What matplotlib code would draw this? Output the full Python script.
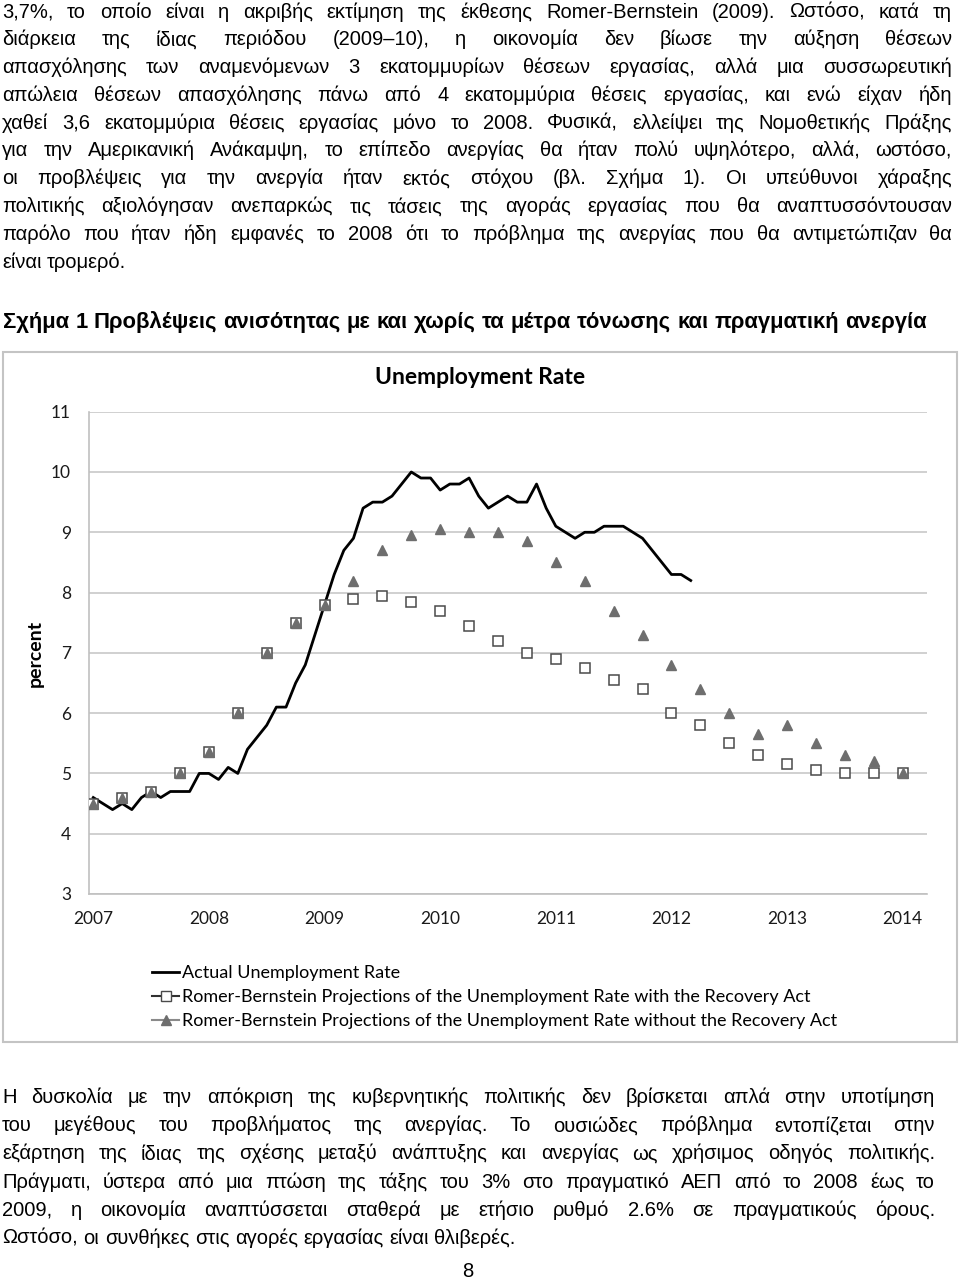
import numpy as np
import matplotlib
matplotlib.use("Agg")
import matplotlib.pyplot as plt
from matplotlib import font_manager
from matplotlib.lines import Line2D
from matplotlib.patches import Rectangle

W, H = 960, 1281

# values
years = [2007, 2008, 2009, 2010, 2011, 2012, 2013, 2014]
yticks = [3, 4, 5, 6, 7, 8, 9, 10, 11]

# quarterly projections, 2007Q1 .. 2014Q1
quarters = 2007 + np.arange(29) * 0.25
with_act = [4.5, 4.6, 4.7, 5.0, 5.35, 6.0, 7.0, 7.5, 7.8, 7.9, 7.95, 7.85, 7.7, 7.45, 7.2,
            7.0, 6.9, 6.75, 6.55, 6.4, 6.0, 5.8, 5.5, 5.3, 5.15, 5.05, 5.0, 5.0, 5.0]
without_act = [4.5, 4.6, 4.7, 5.0, 5.35, 6.0, 7.0, 7.5, 7.8, 8.2, 8.7, 8.95, 9.05, 9.0, 9.0,
               8.85, 8.5, 8.2, 7.7, 7.3, 6.8, 6.4, 6.0, 5.65, 5.8, 5.5, 5.3, 5.2, 5.0]

# monthly actual rate, Jan 2007 .. Mar 2012
actual = [4.6, 4.5, 4.4, 4.5, 4.4, 4.6, 4.7, 4.6, 4.7, 4.7, 4.7, 5.0,
          5.0, 4.9, 5.1, 5.0, 5.4, 5.6, 5.8, 6.1, 6.1, 6.5, 6.8, 7.3,
          7.8, 8.3, 8.7, 8.9, 9.4, 9.5, 9.5, 9.6, 9.8, 10.0, 9.9, 9.9,
          9.7, 9.8, 9.8, 9.9, 9.6, 9.4, 9.5, 9.6, 9.5, 9.5, 9.8, 9.4,
          9.1, 9.0, 8.9, 9.0, 9.0, 9.1, 9.1, 9.1, 9.0, 8.9, 8.7, 8.5,
          8.3, 8.3, 8.2]
months = 2007 + np.arange(len(actual)) / 12.0

labels = ["Actual Unemployment Rate",
          "Romer-Bernstein Projections of the Unemployment Rate with the Recovery Act",
          "Romer-Bernstein Projections of the Unemployment Rate without the Recovery Act"]

top_par = [
    "3,7%, το οποίο είναι η ακριβής εκτίμηση της έκθεσης Romer-Bernstein (2009). Ωστόσο, κατά τη",
    "διάρκεια της ίδιας περιόδου (2009–10), η οικονομία δεν βίωσε την αύξηση θέσεων",
    "απασχόλησης των αναμενόμενων 3 εκατομμυρίων θέσεων εργασίας, αλλά μια συσσωρευτική",
    "απώλεια θέσεων απασχόλησης πάνω από 4 εκατομμύρια θέσεις εργασίας, και ενώ είχαν ήδη",
    "χαθεί 3,6 εκατομμύρια θέσεις εργασίας μόνο το 2008. Φυσικά, ελλείψει της Νομοθετικής Πράξης",
    "για την Αμερικανική Ανάκαμψη, το επίπεδο ανεργίας θα ήταν πολύ υψηλότερο, αλλά, ωστόσο,",
    "οι προβλέψεις για την ανεργία ήταν εκτός στόχου (βλ. Σχήμα 1). Οι υπεύθυνοι χάραξης",
    "πολιτικής αξιολόγησαν ανεπαρκώς τις τάσεις της αγοράς εργασίας που θα αναπτυσσόντουσαν",
    "παρόλο που ήταν ήδη εμφανές το 2008 ότι το πρόβλημα της ανεργίας που θα αντιμετώπιζαν θα",
    "είναι τρομερό.",
]
caption = "Σχήμα 1 Προβλέψεις ανισότητας με και χωρίς τα μέτρα τόνωσης και πραγματική ανεργία"
bottom_par = [
    "Η δυσκολία με την απόκριση της κυβερνητικής πολιτικής δεν βρίσκεται απλά στην υποτίμηση",
    "του μεγέθους του προβλήματος της ανεργίας. Το ουσιώδες πρόβλημα εντοπίζεται στην",
    "εξάρτηση της ίδιας της σχέσης μεταξύ ανάπτυξης και ανεργίας ως χρήσιμος οδηγός πολιτικής.",
    "Πράγματι, ύστερα από μια πτώση της τάξης του 3% στο πραγματικό ΑΕΠ από το 2008 έως το",
    "2009, η οικονομία αναπτύσσεται σταθερά με ετήσιο ρυθμό 2.6% σε πραγματικούς όρους.",
    "Ωστόσο, οι συνθήκες στις αγορές εργασίας είναι θλιβερές.",
]

names = {f.name for f in font_manager.fontManager.ttflist}
BODY = "Liberation Sans" if "Liberation Sans" in names else "DejaVu Sans"
CHART = "Lato" if "Lato" in names else "DejaVu Sans"

fig = plt.figure(figsize=(W / 100, H / 100), dpi=100)
renderer = fig.canvas.get_renderer()


def fy(py):
    return 1 - py / H


def width_of(s, size, weight="normal"):
    t = fig.text(0, 0, s, fontsize=size, family=BODY, fontweight=weight)
    w = t.get_window_extent(renderer).width
    t.remove()
    return w


def put_line(line, base, size, x0, x1=None, weight="normal"):
    words = line.split()
    arts = [fig.text(0, fy(base), w, fontsize=size, family=BODY, fontweight=weight,
                     va="baseline") for w in words]
    widths = [a.get_window_extent(renderer).width for a in arts]
    if x1 is None or len(words) == 1:
        gap = width_of("a a", size, weight) - width_of("aa", size, weight)
    else:
        gap = (x1 - x0 - sum(widths)) / (len(words) - 1)
    x = x0
    for a, w in zip(arts, widths):
        a.set_x(x / W)
        x += w + gap


def fit_size(lines, avail, size, weight="normal"):
    f = min(avail / width_of(l, size, weight) for l in lines)
    return size * min(1.0, f)


# page text
s_top = fit_size(top_par[:-1], 950, 14.5)
for i, line in enumerate(top_par):
    put_line(line, 17.5 + i * 27.8, s_top, 2, None if i == len(top_par) - 1 else 952)

s_cap = fit_size([caption], 923, 16, "bold")
put_line(caption, 328, s_cap, 3, None, "bold")

s_bot = fit_size(bottom_par[:-1], 933, 14.5)
for i, line in enumerate(bottom_par):
    put_line(line, 1103 + i * 28.2, s_bot, 2, None if i == len(bottom_par) - 1 else 935)

fig.text(468 / W, fy(1277), "8", fontsize=s_bot, family=BODY, ha="center", va="baseline")

# chart frame
fig.patches.append(Rectangle((3 / W, fy(1042)), 954 / W, 690 / H, transform=fig.transFigure,
                             fill=False, ec="#c4c4c4", lw=1.5))

ax = fig.add_axes([89 / W, fy(894), 838 / W, (894 - 411.7) / H])
ax.plot(months, actual, color="black", lw=2.0, zorder=3)
ax.plot(quarters, with_act, ls="none", marker="s", ms=7.5, mfc="white", mec="#4a4a4a",
        mew=1.1, zorder=4)
ax.plot(quarters, without_act, ls="none", marker="^", ms=7.5, color="#6e6e6e", zorder=5)

ax.set_xlim(2006.963, 2014.21)
ax.set_ylim(3, 11)
ax.set_yticks(yticks)
ax.set_xticks(years)
ax.set_xticklabels([str(y) for y in years])
ax.grid(axis="y", color="#c8c8c8", lw=1.2)
ax.set_axisbelow(True)
for side in ["top", "right"]:
    ax.spines[side].set_visible(False)
for side in ["left", "bottom"]:
    ax.spines[side].set_color("#c0c0c0")
    ax.spines[side].set_linewidth(1.2)
ax.tick_params(length=0, labelsize=12.5, colors="#1a1a1a")
ax.tick_params(axis="y", pad=13)
ax.tick_params(axis="x", pad=12)
for t in ax.get_xticklabels() + ax.get_yticklabels():
    t.set_family(CHART)

fig.text(480 / W, fy(377), "Unemployment Rate", ha="center", va="center", fontsize=16.5,
         fontweight="bold", family=CHART)
fig.text(35 / W, fy(653), "percent", rotation=90, ha="center", va="center", fontsize=14,
         fontweight="bold", family=CHART)

handles = [Line2D([], [], color="black", lw=2),
           Line2D([], [], color="#303030", lw=1.5, marker="s", ms=7, mfc="white", mec="#4a4a4a"),
           Line2D([], [], color="#8a8a8a", lw=1.5, marker="^", ms=7, mfc="#6e6e6e", mec="#6e6e6e")]
fig.legend(handles, labels, loc="upper left", bbox_to_anchor=(152 / W, fy(965)), frameon=False,
           prop={"family": CHART, "size": 13}, handlelength=1.5, handletextpad=0.15,
           labelspacing=0.45, borderpad=0, borderaxespad=0)

fig.savefig("out.png", dpi=100)
